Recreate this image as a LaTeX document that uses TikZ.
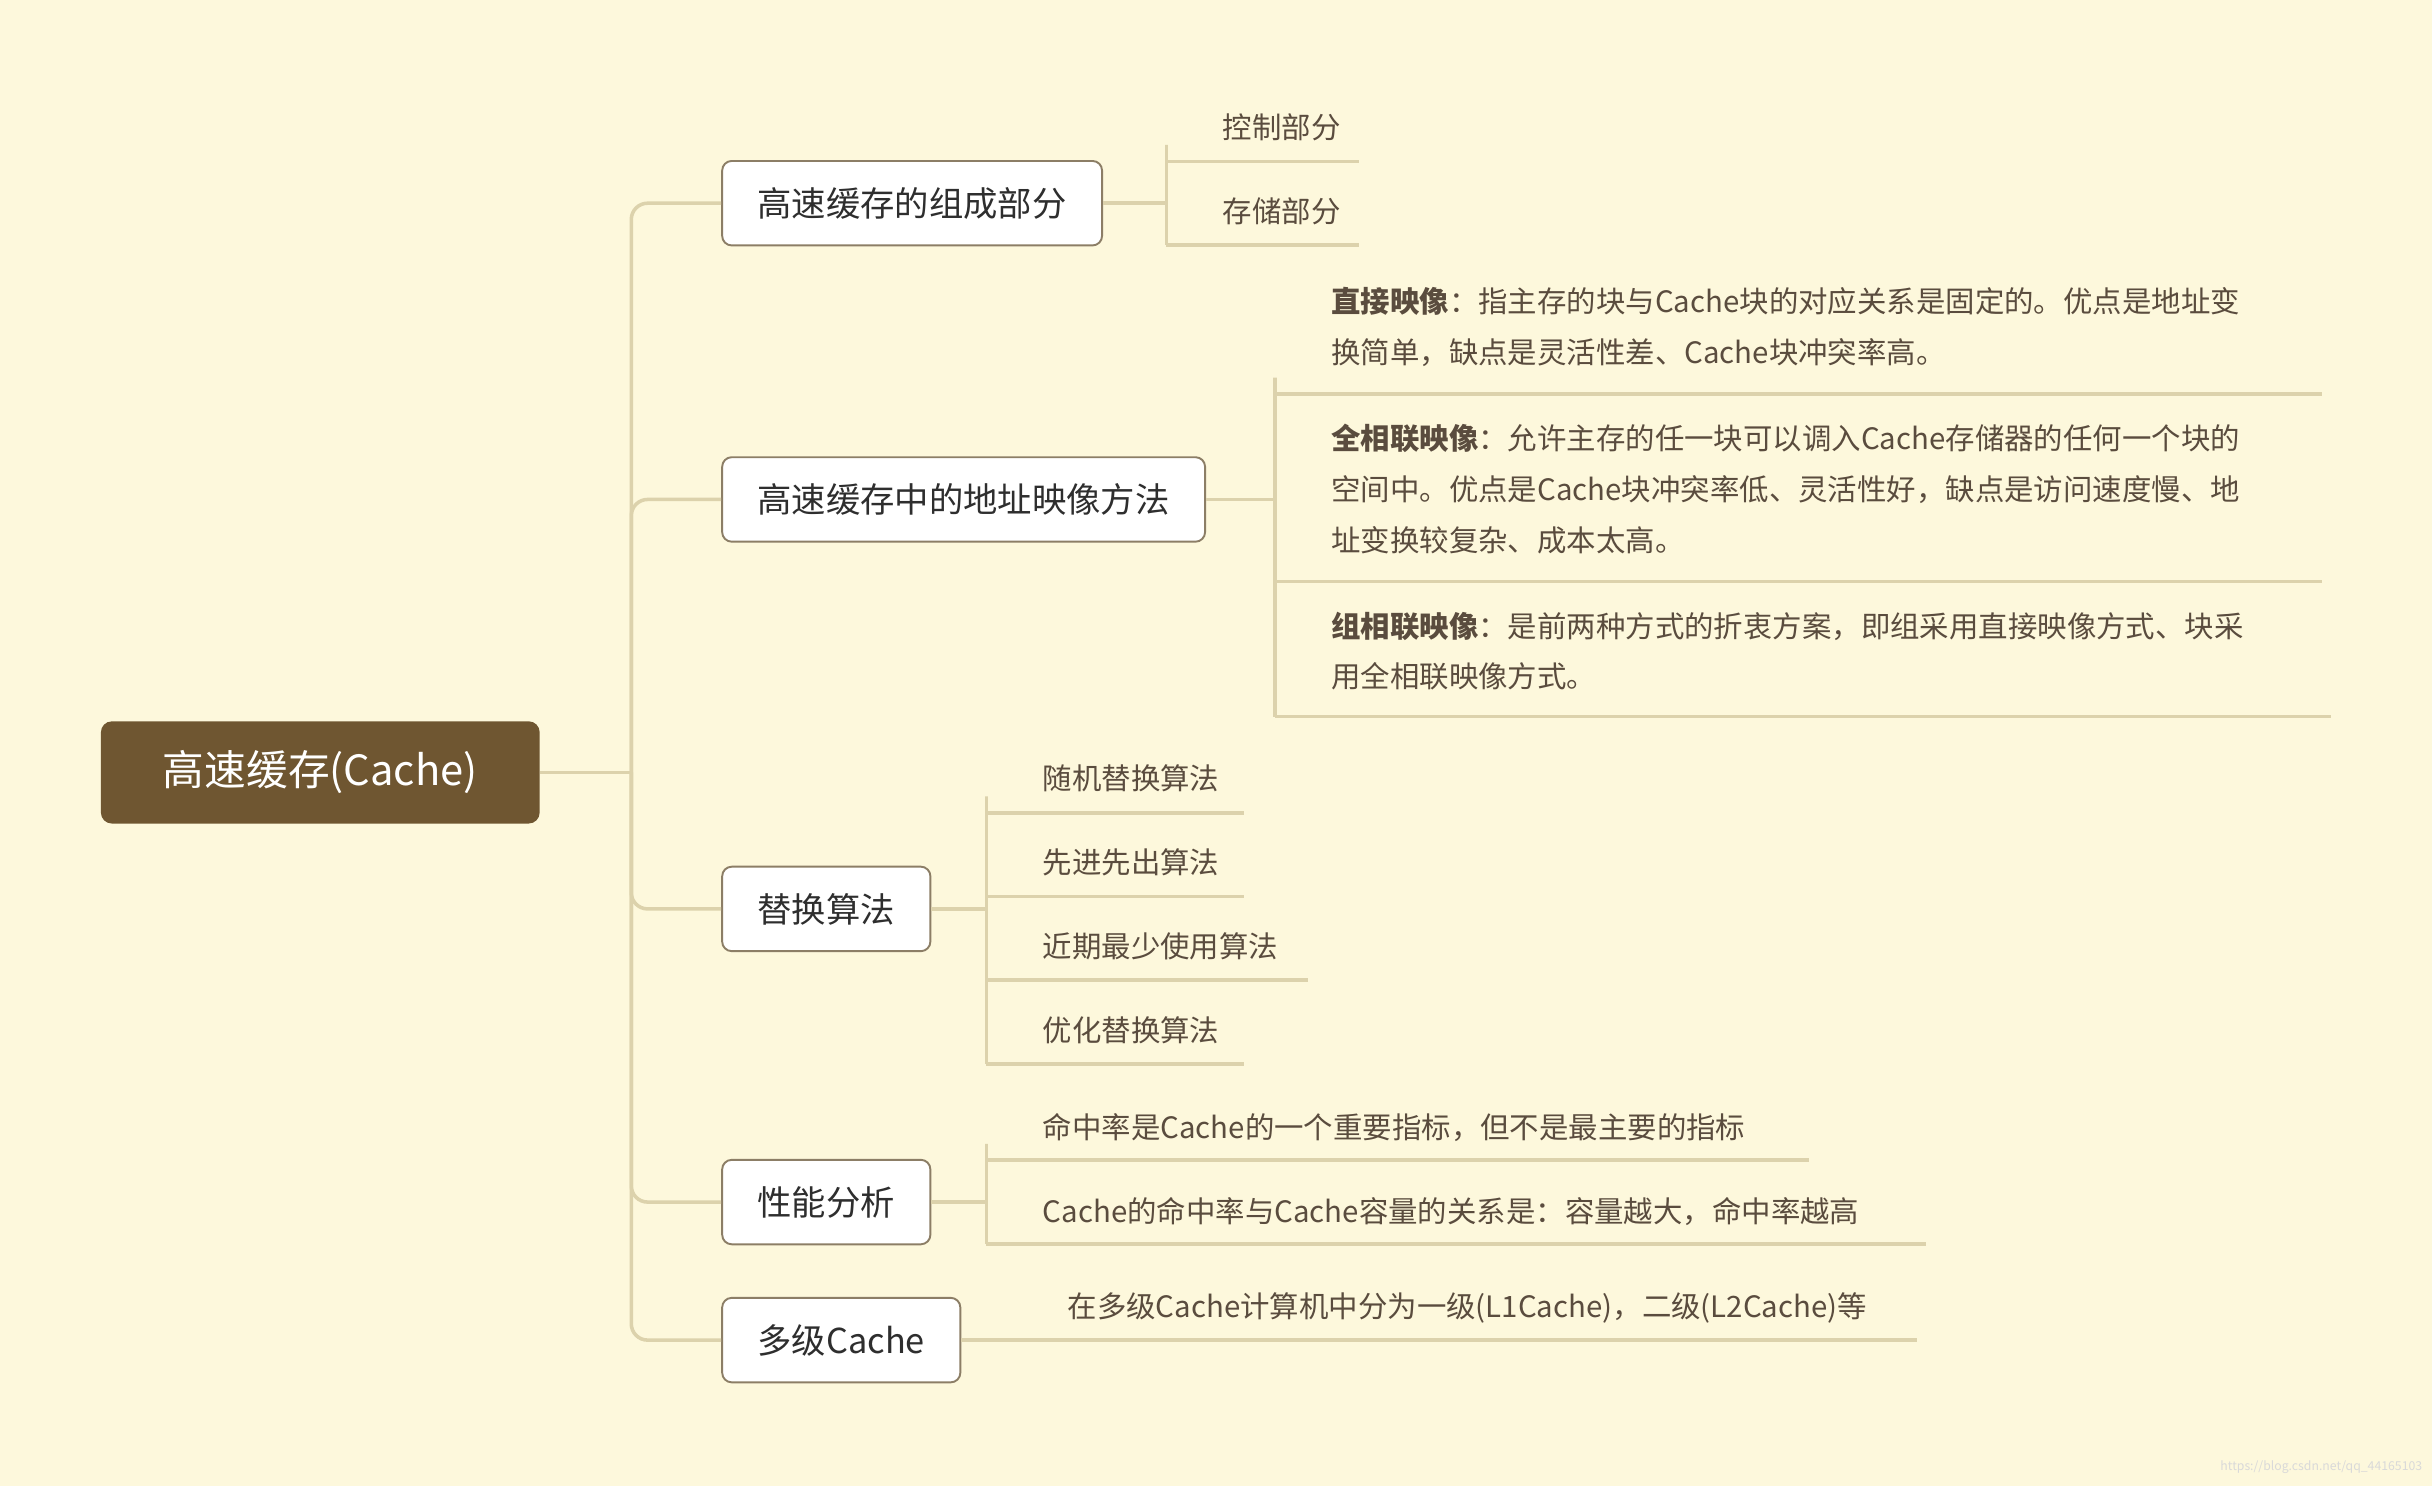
\documentclass[tikz,border=0pt]{standalone}
\usepackage{fontspec}
\setmainfont{Noto Sans CJK SC}
\begin{document}
\begin{tikzpicture}[x=0.02cm,y=-0.02cm,
  conn/.style={draw=linec,line width=1.3pt,rounded corners=6pt},
  ul/.style={draw=linec,line width=1.3pt},
  cat/.style={draw=boxd,line width=0.7pt,fill=white,rounded corners=3.5pt,anchor=west,minimum height=31pt,inner xsep=13pt,text=catc,font=\fontsize{12.6}{15}\selectfont},
  leaf/.style={anchor=west,inner sep=0pt,text=leafc,font=\fontsize{10.8}{18.7}\selectfont},
  mleaf/.style={anchor=north west,inner sep=0pt,text=leafc,align=left,font=\fontsize{10.8}{18.7}\selectfont}]
\definecolor{bg}{HTML}{FDF8DC}
\definecolor{linec}{HTML}{DCD2AC}
\definecolor{boxd}{HTML}{8C7E66}
\definecolor{rootc}{HTML}{6F5631}
\definecolor{catc}{HTML}{2E2E2E}
\definecolor{leafc}{HTML}{5A4C3E}
\useasboundingbox (0,0) rectangle (1568,958);
\fill[bg] (0,0) rectangle (1568,958);
% root
\node[fill=rootc,rounded corners=4pt,minimum width=161pt,minimum height=37.5pt,text=white,font=\fontsize{15.3}{18}\selectfont] (root) at (206.5,498) {高速缓存(Cache)};
% categories
\node[cat] (c1) at (465,131) {高速缓存的组成部分};
\node[cat] (c2) at (465,322) {高速缓存中的地址映像方法};
\node[cat] (c3) at (465,586) {替换算法};
\node[cat] (c4) at (465,775) {性能分析};
\node[cat] (c5) at (465,864) {多级Cache};
\coordinate (t) at (407,498);
\draw[conn] (root.east) -- (t);
\foreach \c in {c1,c2,c3,c4,c5} \draw[conn] (t) |- (\c.west);
% c1 leaves
\node[leaf] (l11) at (788,82) {控制部分};
\node[leaf] (l12) at (788,136) {存储部分};
\coordinate (a11) at (752,104); \coordinate (b11) at (876,104);
\coordinate (a12) at (752,158); \coordinate (b12) at (876,158);
\coordinate (k1) at (752,131);
\draw[conn] (c1.east) -- (k1);
\draw[conn] (k1) |- (a11); \draw[conn] (k1) |- (a12);
\draw[ul] (a11) -- (b11); \draw[ul] (a12) -- (b12);
% c2 leaves
\node[mleaf] (l21) at (858,185) {\textbf{直接映像}：指主存的块与Cache块的对应关系是固定的。优点是地址变\\换简单，缺点是灵活性差、Cache块冲突率高。};
\node[mleaf] (l22) at (858,273) {\textbf{全相联映像}：允许主存的任一块可以调入Cache存储器的任何一个块的\\空间中。优点是Cache块冲突率低、灵活性好，缺点是访问速度慢、地\\址变换较复杂、成本太高。};
\node[mleaf] (l23) at (858,394) {\textbf{组相联映像}：是前两种方式的折衷方案，即组采用直接映像方式、块采\\用全相联映像方式。};
\coordinate (a21) at (822,254); \coordinate (b21) at (1497,254);
\coordinate (a22) at (822,375); \coordinate (b22) at (1497,375);
\coordinate (a23) at (822,462); \coordinate (b23) at (1503,462);
\coordinate (k2) at (822,322);
\draw[conn] (c2.east) -- (k2);
\draw[conn] (k2) |- (a21); \draw[conn] (k2) |- (a22); \draw[conn] (k2) |- (a23);
\draw[ul] (a21) -- (b21); \draw[ul] (a22) -- (b22); \draw[ul] (a23) -- (b23);
% c3 leaves
\node[leaf] (l31) at (672,502) {随机替换算法};
\node[leaf] (l32) at (672,556) {先进先出算法};
\node[leaf] (l33) at (672,610) {近期最少使用算法};
\node[leaf] (l34) at (672,664) {优化替换算法};
\coordinate (k3) at (636,586);
\draw[conn] (c3.east) -- (k3);
\foreach \i/\y/\e in {1/524/802,2/578/802,3/632/843,4/686/802}{
  \coordinate (a3\i) at (636,\y); \coordinate (b3\i) at (\e,\y);
  \draw[conn] (k3) |- (a3\i); \draw[ul] (a3\i) -- (b3\i);}
% c4 leaves
\node[leaf] (l41) at (672,727) {命中率是Cache的一个重要指标，但不是最主要的指标};
\node[leaf] (l42) at (672,781) {Cache的命中率与Cache容量的关系是：容量越大，命中率越高};
\coordinate (k4) at (636,775);
\coordinate (a41) at (636,748); \coordinate (b41) at (1166,748);
\coordinate (a42) at (636,802); \coordinate (b42) at (1242,802);
\draw[conn] (c4.east) -- (k4);
\draw[conn] (k4) |- (a41); \draw[conn] (k4) |- (a42);
\draw[ul] (a41) -- (b41); \draw[ul] (a42) -- (b42);
% c5 leaf
\node[leaf] (l51) at (688,843) {在多级Cache计算机中分为一级(L1Cache)，二级(L2Cache)等};
\coordinate (b51) at (1236,864);
\draw[ul] (c5.east) -- (b51);
% watermark
\node[anchor=east,inner sep=0pt,text=white!85!black,font=\fontsize{4.5}{5}\selectfont] (wm) at (1562,946) {https://blog.csdn.net/qq\_44165103};
\end{tikzpicture}
\end{document}
